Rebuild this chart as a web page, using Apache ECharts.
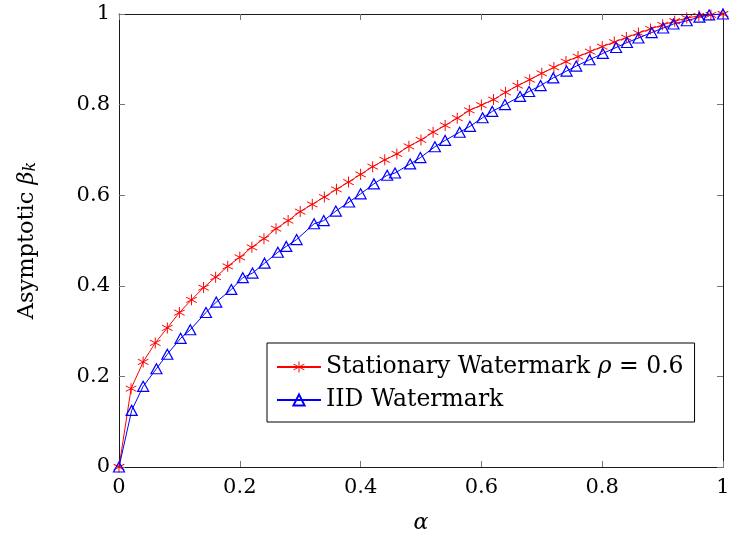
<!DOCTYPE html>
<html>
<head>
<meta charset="utf-8">
<script src="https://cdn.jsdelivr.net/npm/echarts@6/dist/echarts.min.js"></script>
<style>
html,body{margin:0;padding:0;background:#fff;}
#chart{width:729px;height:535px;}
</style>
</head>
<body>
<div id="chart"></div>
<script>
// ---- data ----
var redX = [0,0.02,0.04,0.06,0.08,0.10,0.12,0.14,0.16,0.18,0.20,0.22,0.24,0.26,0.28,0.30,0.32,0.34,0.36,0.38,0.40,0.42,0.44,0.46,0.48,0.50,0.52,0.54,0.56,0.58,0.60,0.62,0.64,0.66,0.68,0.70,0.72,0.74,0.76,0.78,0.80,0.82,0.84,0.86,0.88,0.90,0.92,0.94,0.96,0.98,1.00];
var redY = [0,0.173,0.232,0.274,0.307,0.341,0.369,0.396,0.419,0.443,0.463,0.485,0.504,0.526,0.544,0.564,0.580,0.596,0.613,0.629,0.646,0.663,0.678,0.691,0.708,0.722,0.739,0.754,0.770,0.787,0.799,0.811,0.827,0.842,0.855,0.869,0.882,0.895,0.906,0.917,0.928,0.938,0.948,0.958,0.967,0.976,0.984,0.991,0.996,0.998,1.0];
var blueX = [0,0.021,0.040,0.062,0.080,0.102,0.118,0.144,0.161,0.186,0.205,0.221,0.241,0.263,0.277,0.294,0.323,0.339,0.359,0.381,0.400,0.422,0.444,0.457,0.482,0.499,0.523,0.540,0.564,0.581,0.602,0.618,0.639,0.664,0.679,0.698,0.719,0.741,0.757,0.779,0.801,0.823,0.841,0.860,0.882,0.901,0.918,0.940,0.961,0.977,1.0];
var blueY = [0,0.125,0.178,0.217,0.249,0.284,0.303,0.341,0.364,0.392,0.418,0.428,0.450,0.474,0.487,0.502,0.537,0.544,0.565,0.585,0.603,0.625,0.644,0.649,0.669,0.683,0.707,0.721,0.739,0.752,0.771,0.785,0.800,0.818,0.829,0.842,0.859,0.874,0.885,0.899,0.913,0.926,0.937,0.947,0.959,0.969,0.978,0.985,0.993,0.998,1.0];
var tickValues = [0,0.2,0.4,0.6,0.8,1];
var seriesNames = ['Stationary Watermark \u03C1 = 0.6','IID Watermark'];

function pairs(xs, ys){ var out=[]; for(var i=0;i<xs.length;i++){ out.push([xs[i], ys[i]]); } return out; }
function fmt(v){ var r = Math.round(v*10)/10; return r===0?'0':(r===1?'1':String(r)); }

var FONT = 'DejaVu Serif';
var starPath = 'path://M-0.8,-10 L0.8,-10 L0.8,10 L-0.8,10 Z ' +
  'M8.26,5.69 L-9.06,-4.31 L-8.26,-5.69 L9.06,4.31 Z ' +
  'M-8.26,5.69 L-9.06,4.31 L8.26,-5.69 L9.06,-4.31 Z';

var chart = echarts.init(document.getElementById('chart'), null, {renderer:'canvas'});
var axisLineStyle = {color:'#1a1a1a', width:1};
var tickStyle = {color:'#777', width:1};
var option = {
  backgroundColor:'#fff',
  animation:false,
  grid:{left:119, right:6, top:14, bottom:68, containLabel:false, outerBoundsMode:'none'},
  xAxis:[{
    type:'value', min:0, max:1, interval:0.2, position:'bottom',
    axisLine:{show:true, onZero:false, lineStyle:axisLineStyle},
    axisTick:{show:true, inside:true, length:6, lineStyle:tickStyle},
    splitLine:{show:false},
    axisLabel:{fontFamily:FONT, fontSize:21, color:'#000', margin:10, formatter:fmt, hideOverlap:false},
    name:'\u03B1', nameLocation:'middle', nameGap:45,
    nameTextStyle:{fontFamily:FONT, fontSize:22, fontStyle:'italic', color:'#000'}
  },{
    type:'value', min:0, max:1, interval:0.2, position:'top',
    axisLine:{show:true, onZero:false, lineStyle:axisLineStyle},
    axisTick:{show:true, inside:true, length:6, lineStyle:tickStyle},
    splitLine:{show:false}, axisLabel:{show:false}
  }],
  yAxis:[{
    type:'value', min:0, max:1, interval:0.2, position:'left',
    axisLine:{show:true, onZero:false, lineStyle:axisLineStyle},
    axisTick:{show:true, inside:true, length:6, lineStyle:tickStyle},
    splitLine:{show:false},
    axisLabel:{fontFamily:FONT, fontSize:21, color:'#000', margin:9, formatter:fmt},
    name:'{a|Asymptotic }{b|\u03B2}{c|k}', nameLocation:'middle', nameGap:80, nameRotate:90,
    nameTextStyle:{fontFamily:FONT, fontSize:22.5, color:'#000',
      rich:{
        a:{fontFamily:FONT, fontSize:22.5, color:'#000'},
        b:{fontFamily:FONT, fontSize:22.5, fontStyle:'italic', color:'#000'},
        c:{fontFamily:FONT, fontSize:16, fontStyle:'italic', color:'#000', verticalAlign:'bottom', padding:[8,0,0,0]}
      }}
  },{
    type:'value', min:0, max:1, interval:0.2, position:'right',
    axisLine:{show:true, onZero:false, lineStyle:axisLineStyle},
    axisTick:{show:true, inside:true, length:6, lineStyle:tickStyle},
    splitLine:{show:false}, axisLabel:{show:false}
  }],
  legend:{
    orient:'vertical', left:267, top:343,
    backgroundColor:'#fff', borderColor:'#000', borderWidth:1,
    padding:[12,11,10,9], itemGap:9, itemWidth:44, itemHeight:14,
    data:seriesNames,
    formatter:function(n){
      if(n===seriesNames[0]) return '{n|Stationary Watermark }{i|\u03C1}{n| = 0.6}';
      return '{n|IID Watermark}';
    },
    textStyle:{fontFamily:FONT, fontSize:23.5, color:'#000',
      rich:{ n:{fontFamily:FONT, fontSize:23.5, color:'#000'}, i:{fontFamily:FONT, fontSize:23.5, fontStyle:'italic', color:'#000'} }}
  },
  series:[{
    name:seriesNames[0], type:'line', data:pairs(redX, redY), clip:false,
    symbol:starPath, symbolSize:11,
    lineStyle:{color:'#ff0000', width:1},
    itemStyle:{color:'#ff0000'}
  },{
    name:seriesNames[1], type:'line', data:pairs(blueX, blueY), clip:false,
    symbol:'triangle', symbolSize:[11,10],
    lineStyle:{color:'#0000ff', width:1},
    itemStyle:{color:'rgba(255,255,255,0)', borderColor:'#0000ff', borderWidth:1.2}
  }]
};
chart.setOption(option);
</script>
</body>
</html>
